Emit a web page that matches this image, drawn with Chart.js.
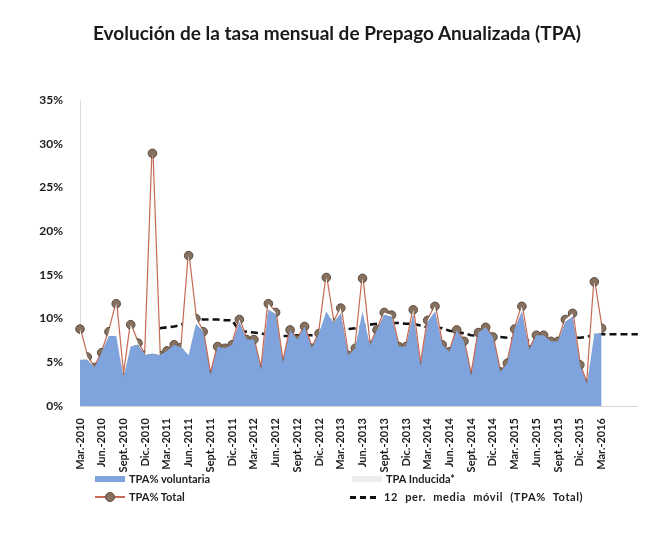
<!DOCTYPE html>
<html>
<head>
<meta charset="utf-8">
<script src="https://cdn.jsdelivr.net/npm/chart.js@4.4.1/dist/chart.umd.min.js"></script>
<style>
  html, body { margin: 0; padding: 0; background: #fff; }
  #wrap { position: relative; width: 655px; height: 533px; font-family: Lato, "Open Sans", sans-serif; }
  #tpaChart { position: absolute; left: 0; top: 0; }
  #title { position: absolute; left: 92px; top: 21px; width: 490px; text-align: center; font-size: 19px; font-weight: bold; color: #1a1a1a; white-space: nowrap; }
  .leg { position: absolute; font-size: 11px; font-weight: bold; color: #1e1e1e; white-space: nowrap; }
  .sw { position: absolute; }
</style>
</head>
<body>
<div id="wrap">
  <canvas id="tpaChart" width="655" height="533"></canvas>
  <div id="title">Evolución de la tasa mensual de Prepago Anualizada (TPA)</div>
  <div id="legend"></div>
</div>
<script>
// quarterly tick labels, one every 3 months (Mar.-2010 .. Mar.-2016)
const tickLabels = [
  "Mar.-2010", "Jun.-2010", "Sept.-2010", "Dic.-2010",
  "Mar.-2011", "Jun.-2011", "Sept.-2011", "Dic.-2011",
  "Mar.-2012", "Jun.-2012", "Sept.-2012", "Dic.-2012",
  "Mar.-2013", "Jun.-2013", "Sept.-2013", "Dic.-2013",
  "Mar.-2014", "Jun.-2014", "Sept.-2014", "Dic.-2014",
  "Mar.-2015", "Jun.-2015", "Sept.-2015", "Dic.-2015",
  "Mar.-2016",
];
const extraMonths = 5; // blank categories after Mar.-2016 (moving average keeps going)

// monthly TPA % total, Mar.-2010 .. Mar.-2016
const tpaTotal = [
  8.8, 5.6, 4.4, 6.1, 8.5, 11.7, 3.2, 9.3, 7.2, 5.8,
  28.9, 5.8, 6.3, 7.0, 6.7, 17.2, 10.0, 8.5, 3.5, 6.8,
  6.6, 7.0, 9.9, 7.6, 7.6, 4.1, 11.7, 10.7, 4.9, 8.7,
  7.6, 9.1, 6.6, 8.3, 14.7, 9.5, 11.2, 5.8, 6.6, 14.6,
  6.9, 8.7, 10.7, 10.4, 6.8, 6.8, 11.0, 4.5, 9.8, 11.4,
  7.0, 6.2, 8.7, 7.4, 3.4, 8.4, 9.0, 7.9, 3.9, 4.9,
  8.8, 11.4, 6.4, 8.1, 8.1, 7.4, 7.4, 9.9, 10.6, 4.7,
  2.5, 14.2, 8.9,
];
const tpaVoluntaria = [
  5.3, 5.3, 4.4, 6.1, 8.0, 8.0, 3.2, 6.8, 7.0, 5.8,
  6.0, 5.8, 6.3, 7.0, 6.7, 5.8, 9.4, 8.5, 3.5, 6.8,
  6.6, 7.0, 9.6, 7.6, 7.6, 4.1, 11.0, 10.5, 4.9, 8.7,
  7.6, 9.1, 6.6, 8.3, 10.8, 9.5, 10.6, 5.8, 6.6, 10.8,
  6.9, 8.7, 10.4, 10.2, 6.8, 6.8, 10.5, 4.5, 9.6, 10.8,
  7.0, 6.2, 8.7, 7.4, 3.4, 8.4, 9.0, 7.9, 3.9, 4.9,
  8.8, 10.8, 6.4, 8.1, 8.1, 7.4, 7.4, 9.6, 10.2, 4.7,
  2.5, 8.3, 8.3,
];
const tpaInducida = [
  3.5, 0.3, 0, 0, 0.5, 3.7, 0, 2.5, 0.2, 0,
  22.9, 0, 0, 0, 0, 11.4, 0.6, 0, 0, 0,
  0, 0, 0.3, 0, 0, 0, 0.7, 0.2, 0, 0,
  0, 0, 0, 0, 3.9, 0, 0.6, 0, 0, 3.8,
  0, 0, 0.3, 0.2, 0, 0, 0.5, 0, 0.2, 0.6,
  0, 0, 0, 0, 0, 0, 0, 0, 0, 0,
  0, 0.6, 0, 0, 0, 0, 0, 0.3, 0.4, 0,
  0, 5.9, 0.6,
];
// 12 period moving average of the total, starts Feb.-2011
const movingAvg = [
  null, null, null, null, null, null, null, null, null, null,
  null, 8.9, 9.0, 9.1, 9.3, 9.9, 10.0, 9.9, 9.9, 9.9,
  9.8, 9.8, 8.6, 8.5, 8.4, 8.3, 8.1, 8.0, 8.0, 8.0,
  8.1, 8.1, 8.1, 8.2, 8.6, 8.7, 8.8, 8.8, 8.9, 9.2,
  9.3, 9.4, 9.5, 9.5, 9.5, 9.4, 9.4, 9.2, 9.0, 9.0,
  8.9, 8.6, 8.5, 8.3, 8.1, 8.0, 8.0, 8.0, 7.9, 7.8,
  7.7, 7.6, 7.5, 7.5, 7.5, 7.6, 7.6, 7.7, 7.8, 7.8,
  7.9, 8.2, 8.2, 8.2, 8.2, 8.2, 8.2, 8.2,
];

const COLORS = {
  voluntaria: "#7fa3dc",
  inducida: "rgba(251,252,249,1)",
  line: "#c66a55",
  marker: "#86705f",
  markerBorder: "#5e4a3d",
  avg: "#111111",
};

const labels = [];
for (let i = 0; i < tpaTotal.length + extraMonths; i++) {
  labels.push(i % 3 === 0 && tickLabels[i / 3] ? tickLabels[i / 3] : "");
}

const FONT = "Lato, 'Open Sans', sans-serif";

const chart = new Chart(document.getElementById("tpaChart"), {
  type: "line",
  data: {
    labels: labels,
    datasets: [
      {
        label: "TPA% voluntaria",
        data: tpaVoluntaria,
        stack: "areas",
        fill: "origin",
        backgroundColor: COLORS.voluntaria,
        borderWidth: 0,
        pointRadius: 0,
        tension: 0,
      },
      {
        label: "TPA Inducida*",
        data: tpaInducida,
        stack: "areas",
        fill: "-1",
        backgroundColor: COLORS.inducida,
        borderWidth: 0,
        pointRadius: 0,
        tension: 0,
      },
      {
        label: "TPA% Total",
        data: tpaTotal,
        stack: "total",
        fill: false,
        borderColor: COLORS.line,
        borderWidth: 2.4,
        borderJoinStyle: "round",
        pointRadius: 4.3,
        pointBackgroundColor: COLORS.marker,
        pointBorderColor: COLORS.markerBorder,
        pointBorderWidth: 1,
        tension: 0,
      },
      {
        label: "12 per. media móvil (TPA% Total)",
        data: movingAvg,
        stack: "avg",
        fill: false,
        borderColor: COLORS.avg,
        borderWidth: 2.6,
        borderDash: [7, 4],
        pointRadius: 0,
        tension: 0,
      },
    ],
  },
  options: {
    responsive: false,
    animation: false,
    layout: { padding: { top: 100, right: 13, bottom: 57, left: 0 } },
    plugins: {
      legend: { display: false },
      tooltip: { enabled: false },
    },
    scales: {
      x: {
        offset: false,
        grid: { display: false },
        border: { display: true, color: "#d6d6d6" },
        ticks: {
          autoSkip: false,
          minRotation: 90,
          maxRotation: 90,
          padding: 4,
          color: "#1a1a1a",
          font: { family: FONT, size: 11, weight: "bold" },
        },
        afterFit: (scale) => { scale.height = 70; },
      },
      y: {
        stacked: true,
        min: 0,
        max: 35,
        grid: { display: false },
        border: { display: true, color: "#dcdcdc", dash: [2, 2] },
        ticks: {
          stepSize: 5,
          padding: 9,
          color: "#1a1a1a",
          font: { family: FONT, size: 12, weight: "bold" },
          callback: (v) => v + "%",
        },
        afterFit: (scale) => { scale.width = 80; },
      },
    },
  },
});

// two column legend under the axis, like the original
const legend = document.getElementById("legend");
const items = [
  { i: 0, x: 95, y: 479 },
  { i: 1, x: 352, y: 479 },
  { i: 2, x: 95, y: 497 },
  { i: 3, x: 350, y: 497 },
];
legend.innerHTML = items
  .map(({ i, x, y }) => {
    const ds = chart.data.datasets[i];
    let mark = "";
    let extra = "";
    if (i === 0) {
      mark = `<div class="sw" style="left:${x}px;top:${y - 3}px;width:30px;height:6px;background:${COLORS.voluntaria}"></div>`;
    } else if (i === 1) {
      mark = `<div class="sw" style="left:${x}px;top:${y - 3}px;width:30px;height:6px;background:#eceee9"></div>`;
    } else if (i === 2) {
      mark = `<div class="sw" style="left:${x}px;top:${y - 1}px;width:30px;height:2px;background:${COLORS.line}"></div>
        <div class="sw" style="left:${x + 10}px;top:${y - 5}px;width:8px;height:8px;border-radius:50%;background:${COLORS.marker};border:1px solid ${COLORS.markerBorder}"></div>`;
    } else {
      mark = `<div class="sw" style="left:${x}px;top:${y - 1}px;width:30px;height:3px;background:repeating-linear-gradient(90deg, ${COLORS.avg} 0 6px, transparent 6px 10px)"></div>`;
      extra = "letter-spacing:0.6px;word-spacing:4px;";
    }
    return `${mark}<div class="leg" style="left:${x + 34}px;top:${y - 7}px;${extra}">${ds.label}</div>`;
  })
  .join("");
</script>
</body>
</html>
